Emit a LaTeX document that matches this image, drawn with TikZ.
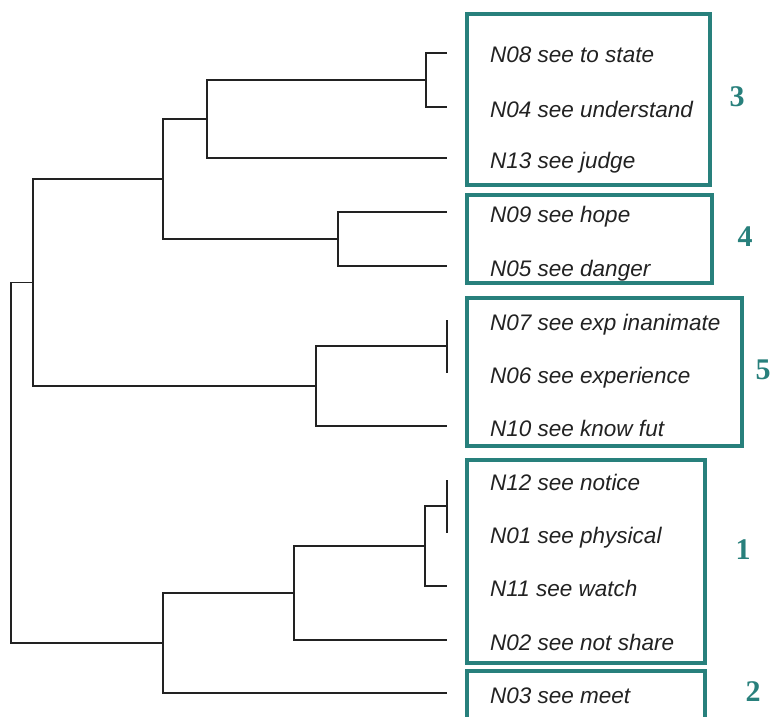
\documentclass[tikz,border=0pt]{standalone}
\usepackage{fontspec}
\setmainfont{Liberation Sans}
\newfontfamily\numfont{Liberation Serif}
\definecolor{teal1}{RGB}{40,128,124}
\definecolor{ink}{RGB}{34,34,34}
\tikzset{
  tree/.style={draw=ink, line width=1.3pt},
  leaf/.style={anchor=base west, inner sep=0pt, text=ink, font=\fontsize{22.5}{24}\selectfont\itshape},
  clusterbox/.style={draw=teal1, line width=3.4pt},
  clusternum/.style={text=teal1, inner sep=0pt, font=\fontsize{30}{32}\selectfont\numfont\bfseries}
}
\begin{document}
\begin{tikzpicture}[x=1pt,y=-1pt]
\useasboundingbox (0,0) rectangle (776,717);
\clip (0,0) rectangle (776,717);
\fill[white] (0,0) rectangle (776,717);
% leaf end points
\foreach \n/\y in {08/53,04/107,13/158,09/212,05/266,07/320,06/373,10/426,12/480,01/533,11/586,02/640,03/693}
  \coordinate (p\n) at (447,\y);
% internal nodes
\coordinate (a) at (426,80);
\coordinate (b) at (207,119);
\coordinate (c) at (338,239);
\coordinate (d) at (163,179);
\coordinate (e) at (447,346);
\coordinate (f) at (316,386);
\coordinate (g) at (33,282.5);
\coordinate (h) at (447,506);
\coordinate (i) at (425,546);
\coordinate (j) at (294,593);
\coordinate (k) at (163,643);
\coordinate (r) at (11,462);
% connectors
\draw[tree] (a) |- (p08) (a) |- (p04);
\draw[tree] (b) |- (a) (b) |- (p13);
\draw[tree] (c) |- (p09) (c) |- (p05);
\draw[tree] (d) |- (b) (d) |- (c);
\draw[tree] (e) |- (p07) (e) |- (p06);
\draw[tree] (f) |- (e) (f) |- (p10);
\draw[tree] (g) |- (d) (g) |- (f);
\draw[tree] (h) |- (p12) (h) |- (p01);
\draw[tree] (i) |- (h) (i) |- (p11);
\draw[tree] (j) |- (i) (j) |- (p02);
\draw[tree] (k) |- (j) (k) |- (p03);
\draw[tree] (r) |- (g) (r) |- (k);
% leaf labels
\node[leaf] (t08) at (490,63) {N08 see to state};
\node[leaf] (t04) at (490,117) {N04 see understand};
\node[leaf] (t13) at (490,168) {N13 see judge};
\node[leaf] (t09) at (490,222) {N09 see hope};
\node[leaf] (t05) at (490,276) {N05 see danger};
\node[leaf] (t07) at (490,330) {N07 see exp inanimate};
\node[leaf] (t06) at (490,383) {N06 see experience};
\node[leaf] (t10) at (490,436) {N10 see know fut};
\node[leaf] (t12) at (490,490) {N12 see notice};
\node[leaf] (t01) at (490,543) {N01 see physical};
\node[leaf] (t11) at (490,596) {N11 see watch};
\node[leaf] (t02) at (490,650) {N02 see not share};
\node[leaf] (t03) at (490,703) {N03 see meet};
% cluster boxes
\draw[clusterbox] (467,14) rectangle (710,185);
\draw[clusterbox] (467,195) rectangle (712,283);
\draw[clusterbox] (467,298) rectangle (742,446);
\draw[clusterbox] (467,460) rectangle (705,663);
\draw[clusterbox] (467,671) rectangle (705,730);
% cluster numbers
\node[clusternum] (n3) at (737,97) {3};
\node[clusternum] (n4) at (745,237) {4};
\node[clusternum] (n5) at (763,370) {5};
\node[clusternum] (n1) at (743,550) {1};
\node[clusternum] (n2) at (753,692) {2};
\end{tikzpicture}
\end{document}
